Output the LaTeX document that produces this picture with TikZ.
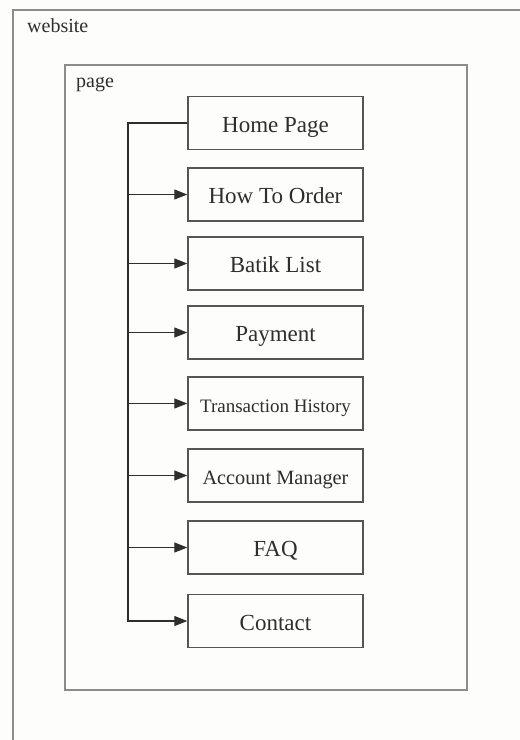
\documentclass[tikz,border=0pt]{standalone}
\usepackage{fontspec}
\setmainfont{Liberation Serif}
\usepackage{xcolor}
\usetikzlibrary{arrows.meta}

\definecolor{framegray}{HTML}{8C8C8C}
\definecolor{boxgray}{HTML}{555555}
\definecolor{inkgray}{HTML}{2E2E2E}
\definecolor{paper}{HTML}{FDFDFB}

\begin{document}
\begin{tikzpicture}[x=1pt, y=-1pt,
  menubox/.style={draw=boxgray, line width=1.4pt, minimum width=175pt,
    minimum height=53pt, inner sep=0pt, text=inkgray,
    text height=18pt, text depth=0pt,
    font=\fontsize{23}{26}\selectfont},
  framelabel/.style={anchor=base west, inner sep=0pt, text=inkgray,
    font=\fontsize{20}{22}\selectfont},
  trunkline/.style={draw=inkgray, line width=1.2pt},
  link/.style={trunkline, -{Triangle[length=13pt,width=10pt]}}]
  % Background and picture size
  \fill[paper] (0,0) rectangle (520,740);
  \useasboundingbox (0,0) rectangle (520,740);

  % Website frame, runs off the right and bottom edge
  \draw[framegray, line width=1.4pt] (13,740) |- (520,10);
  \node[framelabel] (website) at (27,32) {website};

  % Page frame
  \draw[framegray, line width=1.4pt] (65,65) rectangle (467,690);
  \node[framelabel] (page) at (76,87) {page};

  % Menu boxes
  \node[menubox] (home) at (275.5,123) {Home Page};
  \node[menubox] (howto) at (275.5,194.5) {How To Order};
  \node[menubox] (batik) at (275.5,263.5) {Batik List};
  \node[menubox] (payment) at (275.5,332.5) {Payment};
  \node[menubox, font=\fontsize{19}{22}\selectfont] (history) at (275.5,403.5) {Transaction History};
  \node[menubox, font=\fontsize{20.3}{23}\selectfont] (account) at (275.5,475.5) {Account Manager};
  \node[menubox] (faq) at (275.5,547.5) {FAQ};
  \node[menubox] (contact) at (275.5,621) {Contact};

  % Trunk from the home page down to contact
  \coordinate (trunktop) at (128,123);
  \draw[link] (home.west) -- (trunktop) |- (contact.west);

  % Branches to the other pages
  \foreach \n in {howto,batik,payment,history,account,faq}
    \draw[link] (trunktop |- \n.west) -- (\n.west);
\end{tikzpicture}
\end{document}
